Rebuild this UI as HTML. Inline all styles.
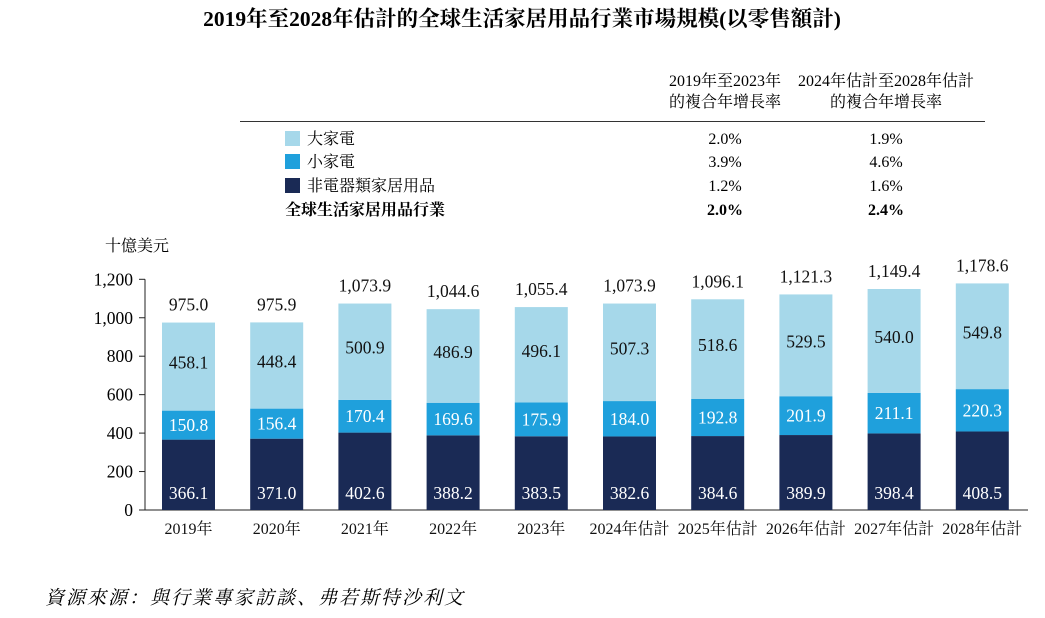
<!DOCTYPE html>
<html><head><meta charset="utf-8"><style>
body{margin:0;background:#fff;width:1045px;height:613px;overflow:hidden;font-family:"Liberation Serif","Noto Serif CJK SC","Noto Sans CJK TC",serif;color:#111}
svg text{font-family:"Liberation Serif","Noto Serif CJK SC","Noto Sans CJK TC",serif}
</style></head><body>
<svg id="chart" width="1045" height="613">
<text x="522" y="26" text-anchor="middle" font-size="21.5" font-weight="bold">2019年至2028年估計的全球生活家居用品行業市場規模(以零售額計)</text>
<g font-size="16">
<text x="725" y="86" text-anchor="middle">2019年至2023年</text>
<text x="725" y="107" text-anchor="middle">的複合年增長率</text>
<text x="886" y="86" text-anchor="middle">2024年估計至2028年估計</text>
<text x="886" y="107" text-anchor="middle">的複合年增長率</text>
<line x1="240" y1="121.5" x2="985" y2="121.5" stroke="#333" stroke-width="1"/>
<rect x="285" y="131" width="15" height="15" fill="#a6d8ea"/>
<text x="307" y="144">大家電</text>
<text x="725" y="144" text-anchor="middle">2.0%</text><text x="886" y="144" text-anchor="middle">1.9%</text>
<rect x="285" y="154" width="15" height="15" fill="#1fa0dc"/>
<text x="307" y="167">小家電</text>
<text x="725" y="167" text-anchor="middle">3.9%</text><text x="886" y="167" text-anchor="middle">4.6%</text>
<rect x="285" y="178" width="15" height="15" fill="#1a2a55"/>
<text x="307" y="191">非電器類家居用品</text>
<text x="725" y="191" text-anchor="middle">1.2%</text><text x="886" y="191" text-anchor="middle">1.6%</text>
<text x="285" y="215" font-weight="bold">全球生活家居用品行業</text>
<text x="725" y="215" text-anchor="middle" font-weight="bold">2.0%</text><text x="886" y="215" text-anchor="middle" font-weight="bold">2.4%</text>
</g>
<text x="105" y="251" font-size="16">十億美元</text>
<g id="plot"></g>
<text x="45" y="604" font-size="19" font-style="italic" letter-spacing="2">資源來源：與行業專家訪談、弗若斯特沙利文</text>
</svg>
<script>
const categories=["2019年","2020年","2021年","2022年","2023年","2024年估計","2025年估計","2026年估計","2027年估計","2028年估計"];
const nonElectrical=[366.1,371.0,402.6,388.2,383.5,382.6,384.6,389.9,398.4,408.5];
const smallAppliances=[150.8,156.4,170.4,169.6,175.9,184.0,192.8,201.9,211.1,220.3];
const largeAppliances=[458.1,448.4,500.9,486.9,496.1,507.3,518.6,529.5,540.0,549.8];
const totals=[975.0,975.9,1073.9,1044.6,1055.4,1073.9,1096.1,1121.3,1149.4,1178.6];
const yTicks=[0,200,400,600,800,1000,1200];
const NS="http://www.w3.org/2000/svg";
const g=document.getElementById('plot');
const x0=145,y0=510,yTop=279.3,yMax=1200,step=88.2,barW=53,first=162;
const y=v=>y0-(v/yMax)*(y0-yTop);
const bx=i=>first+i*step;
function mk(t,a){const e=document.createElementNS(NS,t);for(const k in a)e.setAttribute(k,a[k]);g.appendChild(e);return e;}
const fmt=v=>v.toLocaleString('en-US',{minimumFractionDigits:1,maximumFractionDigits:1});
let ax=mk('line',{x1:x0,y1:yTop,x2:x0,y2:y0,stroke:'#222'});


let bl=mk('line',{x1:x0-6,y1:y0,x2:1028,y2:y0,stroke:'#222'});


yTicks.forEach(v=>{
  let t=mk('line',{x1:x0-6,y1:y(v),x2:x0,y2:y(v),stroke:'#222'});
  
  
  let l=mk('text',{x:133,y:y(v)+6,'text-anchor':'end','font-size':17.5});
  l.textContent=v.toLocaleString('en-US');
  
  
});
categories.forEach((c,i)=>{
  const x=bx(i),cx=x+barW/2;
  const d=nonElectrical[i],s=smallAppliances[i],l=largeAppliances[i];
  const segs=[[0,d,'#1a2a55','bar-non-electrical'],[d,d+s,'#1fa0dc','bar-small-appliances'],[d+s,d+s+l,'#a6d8ea','bar-large-appliances']];
  segs.forEach(([a,b,col,name])=>{
    let r=mk('rect',{x:x,y:y(b),width:barW,height:y(a)-y(b),fill:col});
    
    
  });
  let t1=mk('text',{x:cx,y:y0-11,'text-anchor':'middle','font-size':17.5,fill:'#fff'});t1.textContent=fmt(d);
  
  
  let t2=mk('text',{x:cx,y:(y(d)+y(d+s))/2+6,'text-anchor':'middle','font-size':17.5,fill:'#fff'});t2.textContent=fmt(s);
  
  
  let t3=mk('text',{x:cx,y:(y(d+s)+y(d+s+l))/2+2,'text-anchor':'middle','font-size':17.5,fill:'#111'});t3.textContent=fmt(l);
  
  
  let t4=mk('text',{x:cx,y:y(totals[i])-12,'text-anchor':'middle','font-size':17.5,fill:'#111'});t4.textContent=fmt(totals[i]);
  
  
  let xl=mk('text',{x:cx,y:534,'text-anchor':'middle','font-size':16,fill:'#111'});xl.textContent=c;
  
  
});
</script>
</body></html>
